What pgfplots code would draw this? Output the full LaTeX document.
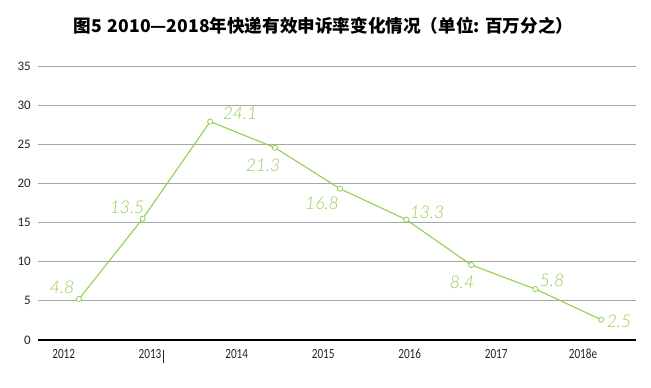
\documentclass[border=0pt]{standalone}
\usepackage{fontspec}
\usepackage{pgfplots}
\usepackage{pgfplotstable}
\pgfplotsset{compat=1.18}
\setmainfont{Carlito}
\newfontfamily\cjkfont{Noto Sans CJK SC}
\newfontfamily\xfont[FakeStretch=0.8]{Carlito}
\newfontfamily\lblfont{Lato Light Italic}
\definecolor{lg}{RGB}{146,208,80}
\definecolor{gridgray}{RGB}{166,166,166}
\definecolor{tickcol}{RGB}{35,35,35}
\pgfplotstableread{
x y
79 5.24
142.7 15.5
210.2 27.9
275 24.56
340 19.32
406.3 15.37
471.3 9.58
535.3 6.51
601.3 2.59
}\linedata
\pgfplotstableread{
x y lbl
62 6.77 4.8
127 16.99 13.5
240 29.0 24.1
263 22.35 21.3
322 17.5 16.8
427 16.35 13.3
462 7.41 8.4
552 7.66 5.8
619 2.43 2.5
}\labeldata
\begin{document}
\begin{tikzpicture}[x=1pt,y=1pt]
\path[use as bounding box] (0,0) rectangle (651,388);
\node[font=\cjkfont\bfseries\fontsize{17.6}{20}\selectfont, text=black] at (323.5,362) {图5\hspace{6pt}2010—2018年快递有效申诉率变化情况（单位: 百万分之）};
\begin{axis}[
  at={(38pt,48pt)}, anchor=south west,
  scale only axis, width=598pt, height=274pt,
  xmin=38, xmax=636, ymin=0, ymax=35,
  axis line style={draw=none},
  major tick length=0pt,
  ytick={0,5,...,35},
  ymajorgrids,
  grid style={color=gridgray, line width=0.8pt},
  extra y ticks={0},
  extra y tick labels={},
  extra y tick style={grid style={color=black, line width=1.3pt}},
  xtick={63.7,150,236.7,323.2,409.7,496.2,583},
  xticklabels={2012,{2013\rlap{\hspace{2pt}\rule[-4pt]{0.9pt}{12.7pt}}},2014,2015,2016,2017,2018e},
  xticklabel style={font=\xfont\fontsize{14}{15}\selectfont, text=tickcol, anchor=base, yshift=-19pt, inner sep=0pt},
  yticklabel style={font=\fontsize{13}{14}\selectfont, text=tickcol, anchor=east, xshift=-7pt, inner sep=0pt},
  /pgf/number format/assume math mode=true,
  clip=false,
]
\addplot[color=lg, line width=1.1pt, mark=*, mark size=2.6pt, mark options={fill=white, draw=lg, line width=0.8pt}] table[x=x,y=y] {\linedata};
\addplot[draw=none, mark=none, nodes near coords, point meta=explicit symbolic,
  nodes near coords style={anchor=center, font=\lblfont\fontsize{17.5}{17.5}\selectfont, text=lg, inner sep=0pt}]
  table[x=x, y=y, meta=lbl] {\labeldata};
\end{axis}
\end{tikzpicture}
\end{document}
